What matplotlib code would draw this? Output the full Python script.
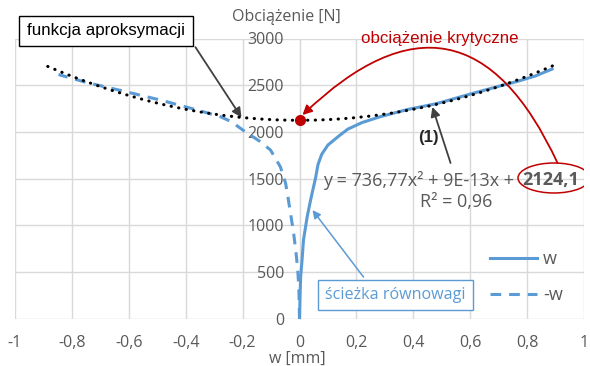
import numpy as np
import matplotlib.pyplot as plt
from matplotlib.patches import Ellipse

# equilibrium path, deflection w [mm] vs load [N]
w_x = [0, 0.002, 0.004, 0.009, 0.014, 0.027, 0.039, 0.047, 0.056, 0.065, 0.078,
       0.1, 0.14, 0.17, 0.22, 0.285, 0.38, 0.47, 0.5, 0.6, 0.7, 0.765, 0.83, 0.888]
w_y = [0, 250, 450, 628, 843, 1092, 1270, 1380, 1500, 1650, 1760,
       1860, 1960, 2030, 2100, 2164, 2240, 2295, 2318, 2405, 2488, 2540, 2600, 2673]

# mirrored branch (-w)
mw_x = [0, -0.002, -0.006, -0.012, -0.02, -0.03, -0.04, -0.049, -0.067, -0.085,
        -0.102, -0.14, -0.19, -0.24, -0.278, -0.359, -0.489, -0.629, -0.75, -0.847]
mw_y = [0, 300, 520, 700, 900, 1100, 1290, 1452, 1624, 1720,
        1806, 1900, 2000, 2110, 2163, 2234, 2341, 2444, 2530, 2614]

# quadratic trendline y = a*x^2 + b*x + c
a, b, c = 736.77, 9e-13, 2124.1
r2 = 0.96
fit_x = np.linspace(-0.885, 0.89, 200)
fit_y = a * fit_x**2 + b * fit_x + c

x_ticks = [-1, -0.8, -0.6, -0.4, -0.2, 0, 0.2, 0.4, 0.6, 0.8, 1]
x_labels = ['-1', '-0,8', '-0,6', '-0,4', '-0,2', '0', '0,2', '0,4', '0,6', '0,8', '1']
y_ticks = [0, 500, 1000, 1500, 2000, 2500, 3000]

blue = '#5b9bd5'
gray = '#595959'
red = '#c00000'

plt.rcParams['font.family'] = ['Open Sans', 'DejaVu Sans']

fig = plt.figure(figsize=(5.9, 3.66), dpi=100)
ax = fig.add_axes([15 / 590, 1 - 318.7 / 366, 569 / 590, 280.2 / 366])

ax.plot(w_x, w_y, color=blue, lw=2.2, label='w', zorder=3)
ax.plot(mw_x, mw_y, color=blue, lw=2.2, ls=(0, (3.5, 2.6)), label='-w', zorder=3)
ax.plot(fit_x, fit_y, color='black', lw=2.2, ls=(0, (0.1, 2.4)),
        dash_capstyle='round', zorder=4)
ax.plot([0], [c], 'o', color=red, ms=7, zorder=5)

ax.set_xlim(-1, 1)
ax.set_ylim(0, 3000)
ax.set_xticks(x_ticks)
ax.set_xticklabels(x_labels)
ax.set_yticks(y_ticks)
ax.grid(True, color='#d9d9d9', lw=1)
ax.set_axisbelow(True)
for s in ['top', 'right', 'bottom']:
    ax.spines[s].set_visible(False)
ax.spines['left'].set_position(('data', 0))
ax.spines['left'].set_color('#d9d9d9')
ax.tick_params(axis='both', length=0, labelsize=11.5, labelcolor=gray)
ax.tick_params(axis='y', pad=11)
ax.tick_params(axis='x', pad=11.5)

fig.text(286 / 590, 1 - 17 / 366, 'Obciążenie [N]', ha='center', va='center',
         fontsize=11.5, color=gray)
fig.text(297 / 590, 1 - 359 / 366, 'w [mm]', ha='center', va='center',
         fontsize=11.5, color=gray)

leg = ax.legend(loc='upper left', bbox_to_anchor=(490 / 590, 1 - 250 / 366),
                bbox_transform=fig.transFigure, frameon=False, fontsize=13,
                handlelength=2.6, handletextpad=0.35, labelspacing=1.0,
                borderpad=0, borderaxespad=0)
for t in leg.get_texts():
    t.set_color(gray)

# trendline equation
fig.text(514 / 590, 1 - 180 / 366, 'y = 736,77x² + 9E-13x +', ha='right',
         va='center', fontsize=13, color=gray)
fig.text(522 / 590, 1 - 180 / 366, '2124,1', ha='left', va='center',
         fontsize=13, color=gray, fontweight='bold')
fig.text(456 / 590, 1 - 202 / 366, 'R² = 0,96', ha='center', va='center',
         fontsize=13, color=gray)
ax.add_patch(Ellipse((554, 366 - 178), 72, 30, transform=None, fill=False,
                     ec=red, lw=1.1, zorder=6))

# callouts
fig.text(106 / 590, 1 - 31 / 366, 'funkcja aproksymacji', ha='center', va='center',
         fontsize=12.2, family='Liberation Sans', color='black',
         bbox=dict(boxstyle='square,pad=0.45', fc='white', ec='black', lw=1))
ax.annotate('', xy=(-0.204, a * 0.204**2 + c), xytext=(-0.366, 2908),
            arrowprops=dict(arrowstyle='-|>', color='#404040', lw=1.3,
                            mutation_scale=14, shrinkA=0, shrinkB=0))

fig.text(440 / 590, 1 - 38 / 366, 'obciążenie krytyczne', ha='center', va='center',
         fontsize=12.2, family='Liberation Sans', color=red)
ax.annotate('', xy=(0.0105, 2181), xytext=(0.907, 1667),
            arrowprops=dict(arrowstyle='-|>', color=red, lw=1.3,
                            mutation_scale=14, shrinkA=0, shrinkB=0,
                            connectionstyle='arc3,rad=0.7'))

fig.text(428 / 590, 1 - 137 / 366, '(1)', ha='center', va='center',
         fontsize=12.2, family='Liberation Sans', fontweight='bold', color='#262626')
ax.annotate('', xy=(0.467, 2267), xytext=(0.531, 1667),
            arrowprops=dict(arrowstyle='-|>', color='#404040', lw=1.3,
                            mutation_scale=14, shrinkA=0, shrinkB=0))

fig.text(395.5 / 590, 1 - 295 / 366, 'ścieżka równowagi', ha='center', va='center',
         fontsize=11.6, color=blue,
         bbox=dict(boxstyle='square,pad=0.45', fc='white', ec=blue, lw=1))
ax.annotate('', xy=(0.0457, 1163), xytext=(0.225, 446),
            arrowprops=dict(arrowstyle='-|>', color=blue, lw=1.1,
                            mutation_scale=12, shrinkA=0, shrinkB=0))

fig.savefig('out.png', dpi=100)
